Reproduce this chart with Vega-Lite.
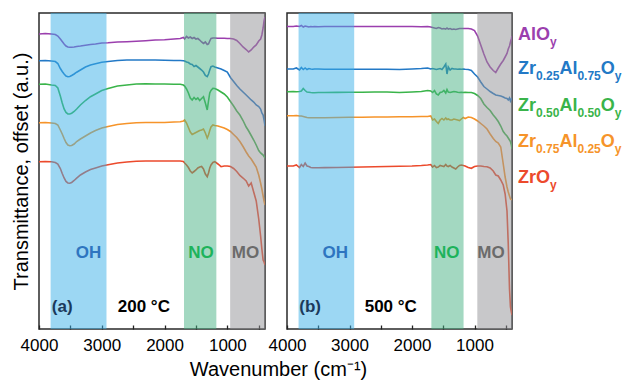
{
  "$schema": "https://vega.github.io/schema/vega-lite/v6.json",
  "padding": {"left": 10, "top": 12, "right": 0, "bottom": 5},
  "bounds": "flush",
  "spacing": 22,
  "config": {
    "view": {"stroke": "#2a2a2a", "strokeWidth": 1.5},
    "font": "Liberation Sans",
    "axis": {"grid": false, "domain": false, "labelFont": "Liberation Sans", "labelFontSize": 17, "labelColor": "#000000", "titleFont": "Liberation Sans", "titleFontSize": 20, "titleFontWeight": "normal", "titleColor": "#000000"},
    "axisX": {"values": [4000,3500,3000,2500,2000,1500,1000,500], "format": "d", "labelExpr": "datum.value % 1000 == 0 ? datum.label : ''", "tickSize": -4, "tickColor": "#222222", "tickWidth": 1.3, "labelPadding": 12, "labelFlush": false, "labelOverlap": false},
    "axisY": {"labels": false, "ticks": false}
  },
  "datasets": {
    "a": [
      {"w":4000,"AlOy":295,"Zr25":268.3,"Zr50":244.7,"Zr75":206.3,"ZrOy":167.3},
      {"w":3900,"AlOy":295.5,"Zr25":268.5,"Zr50":245,"Zr75":206.5,"ZrOy":167.5},
      {"w":3800,"AlOy":295,"Zr25":268,"Zr50":244,"Zr75":206,"ZrOy":167.3},
      {"w":3740,"AlOy":294.5,"Zr25":267.5,"Zr50":243.5,"Zr75":205.5,"ZrOy":166.5},
      {"w":3700,"AlOy":293,"Zr25":265.5,"Zr50":241,"Zr75":204,"ZrOy":165},
      {"w":3660,"AlOy":290,"Zr25":260.5,"Zr50":233,"Zr75":199,"ZrOy":160.5},
      {"w":3630,"AlOy":287.5,"Zr25":257.5,"Zr50":226,"Zr75":195,"ZrOy":155.5},
      {"w":3600,"AlOy":285,"Zr25":255,"Zr50":220,"Zr75":190.5,"ZrOy":151},
      {"w":3570,"AlOy":283,"Zr25":253,"Zr50":216.5,"Zr75":186.5,"ZrOy":147.5},
      {"w":3540,"AlOy":282,"Zr25":252.3,"Zr50":215,"Zr75":184,"ZrOy":146},
      {"w":3510,"AlOy":281.7,"Zr25":252.5,"Zr50":215,"Zr75":183.3,"ZrOy":145.8},
      {"w":3480,"AlOy":281.8,"Zr25":253.5,"Zr50":215.8,"Zr75":183.5,"ZrOy":146.5},
      {"w":3440,"AlOy":282,"Zr25":255,"Zr50":217.5,"Zr75":185,"ZrOy":148.5},
      {"w":3400,"AlOy":282.5,"Zr25":256.8,"Zr50":220,"Zr75":187.5,"ZrOy":150.8},
      {"w":3340,"AlOy":283,"Zr25":259,"Zr50":224,"Zr75":190,"ZrOy":154},
      {"w":3260,"AlOy":283.8,"Zr25":262,"Zr50":228.5,"Zr75":193,"ZrOy":157},
      {"w":3180,"AlOy":284.5,"Zr25":264,"Zr50":232.3,"Zr75":196,"ZrOy":159.5},
      {"w":3100,"AlOy":285,"Zr25":265.3,"Zr50":235,"Zr75":198.5,"ZrOy":161},
      {"w":3000,"AlOy":286,"Zr25":266.8,"Zr50":238.5,"Zr75":201,"ZrOy":163},
      {"w":2900,"AlOy":286.3,"Zr25":267.5,"Zr50":240.5,"Zr75":202.5,"ZrOy":164.2},
      {"w":2750,"AlOy":287,"Zr25":268.5,"Zr50":243,"Zr75":204.5,"ZrOy":166},
      {"w":2600,"AlOy":287.3,"Zr25":269,"Zr50":244,"Zr75":205.5,"ZrOy":167},
      {"w":2450,"AlOy":287.8,"Zr25":269,"Zr50":245,"Zr75":206.3,"ZrOy":167.7},
      {"w":2300,"AlOy":288.3,"Zr25":269,"Zr50":245.3,"Zr75":206.5,"ZrOy":168},
      {"w":2150,"AlOy":289,"Zr25":269,"Zr50":245,"Zr75":206.5,"ZrOy":168},
      {"w":2000,"AlOy":289.3,"Zr25":268.8,"Zr50":245,"Zr75":206.5,"ZrOy":168},
      {"w":1850,"AlOy":290,"Zr25":268.5,"Zr50":244.8,"Zr75":207,"ZrOy":168},
      {"w":1750,"AlOy":290.5,"Zr25":268.5,"Zr50":244.7,"Zr75":207.3,"ZrOy":168},
      {"w":1700,"AlOy":291.5,"Zr25":268.3,"Zr50":244,"Zr75":208,"ZrOy":167.5},
      {"w":1680,"AlOy":290,"Zr25":268,"Zr50":243,"Zr75":209,"ZrOy":166},
      {"w":1650,"AlOy":292.5,"Zr25":267,"Zr50":240,"Zr75":206,"ZrOy":164},
      {"w":1620,"AlOy":291,"Zr25":266.5,"Zr50":236,"Zr75":201.5,"ZrOy":161.5},
      {"w":1590,"AlOy":292,"Zr25":265,"Zr50":231,"Zr75":197,"ZrOy":158},
      {"w":1560,"AlOy":290.5,"Zr25":264.5,"Zr50":229,"Zr75":194.5,"ZrOy":156},
      {"w":1530,"AlOy":291.5,"Zr25":262.5,"Zr50":231.5,"Zr75":195.5,"ZrOy":157.5},
      {"w":1500,"AlOy":290,"Zr25":263.5,"Zr50":229.5,"Zr75":196.5,"ZrOy":159},
      {"w":1470,"AlOy":290.5,"Zr25":262,"Zr50":231,"Zr75":197.5,"ZrOy":161},
      {"w":1440,"AlOy":289,"Zr25":260.5,"Zr50":228.5,"Zr75":198.5,"ZrOy":162},
      {"w":1410,"AlOy":287,"Zr25":259,"Zr50":230.5,"Zr75":199,"ZrOy":162.5},
      {"w":1380,"AlOy":285.5,"Zr25":257,"Zr50":232.3,"Zr75":200,"ZrOy":160},
      {"w":1350,"AlOy":287,"Zr25":253.5,"Zr50":226,"Zr75":196,"ZrOy":155},
      {"w":1320,"AlOy":284.5,"Zr25":252.3,"Zr50":219,"Zr75":191,"ZrOy":152.3},
      {"w":1300,"AlOy":285,"Zr25":255,"Zr50":228,"Zr75":194,"ZrOy":156},
      {"w":1280,"AlOy":288,"Zr25":259,"Zr50":236,"Zr75":198.5,"ZrOy":161},
      {"w":1260,"AlOy":290.5,"Zr25":262.3,"Zr50":238.5,"Zr75":202,"ZrOy":164},
      {"w":1230,"AlOy":291,"Zr25":263,"Zr50":240.7,"Zr75":204,"ZrOy":166.5},
      {"w":1200,"AlOy":291,"Zr25":262,"Zr50":240.5,"Zr75":203.5,"ZrOy":167.3},
      {"w":1150,"AlOy":290.8,"Zr25":261,"Zr50":239,"Zr75":203,"ZrOy":165},
      {"w":1100,"AlOy":290.7,"Zr25":260,"Zr50":237,"Zr75":202,"ZrOy":162.3},
      {"w":1050,"AlOy":290.7,"Zr25":258.5,"Zr50":235,"Zr75":201,"ZrOy":163},
      {"w":1000,"AlOy":290.5,"Zr25":257,"Zr50":232,"Zr75":199.5,"ZrOy":163},
      {"w":950,"AlOy":290.5,"Zr25":251.5,"Zr50":227.5,"Zr75":197.5,"ZrOy":162.5},
      {"w":900,"AlOy":290,"Zr25":247.5,"Zr50":223,"Zr75":194.5,"ZrOy":160.5},
      {"w":850,"AlOy":288.5,"Zr25":243.5,"Zr50":218,"Zr75":191.5,"ZrOy":157.5},
      {"w":800,"AlOy":285.5,"Zr25":240,"Zr50":214,"Zr75":187.5,"ZrOy":153.5},
      {"w":750,"AlOy":282,"Zr25":237,"Zr50":208.5,"Zr75":182.5,"ZrOy":151},
      {"w":700,"AlOy":279.5,"Zr25":234,"Zr50":202,"Zr75":177,"ZrOy":148},
      {"w":660,"AlOy":277,"Zr25":231.5,"Zr50":198,"Zr75":173,"ZrOy":143},
      {"w":620,"AlOy":279,"Zr25":229,"Zr50":193.5,"Zr75":170,"ZrOy":146},
      {"w":580,"AlOy":282,"Zr25":227,"Zr50":189,"Zr75":166,"ZrOy":137},
      {"w":540,"AlOy":284,"Zr25":224,"Zr50":184,"Zr75":162,"ZrOy":128},
      {"w":500,"AlOy":288,"Zr25":222.5,"Zr50":178.5,"Zr75":154,"ZrOy":110},
      {"w":470,"AlOy":290,"Zr25":220,"Zr50":176,"Zr75":146,"ZrOy":93},
      {"w":450,"AlOy":294,"Zr25":216,"Zr50":175,"Zr75":140,"ZrOy":80},
      {"w":430,"AlOy":301,"Zr25":214,"Zr50":174,"Zr75":133,"ZrOy":69},
      {"w":415,"AlOy":308,"Zr25":209,"Zr50":172.5,"Zr75":128,"ZrOy":67},
      {"w":400,"AlOy":312,"Zr25":203,"Zr50":171,"Zr75":124,"ZrOy":64}
    ],
    "b": [
      {"w":4000,"AlOy":302.5,"Zr25":260,"Zr50":237.3,"Zr75":213.3,"ZrOy":163},
      {"w":3900,"AlOy":302.5,"Zr25":260,"Zr50":237.5,"Zr75":213.3,"ZrOy":163},
      {"w":3850,"AlOy":303,"Zr25":261,"Zr50":237.3,"Zr75":213.5,"ZrOy":164},
      {"w":3800,"AlOy":302.5,"Zr25":259,"Zr50":237.5,"Zr75":213,"ZrOy":161.5},
      {"w":3770,"AlOy":303.5,"Zr25":261.5,"Zr50":238,"Zr75":213,"ZrOy":164.5},
      {"w":3740,"AlOy":302,"Zr25":259.5,"Zr50":240.5,"Zr75":212.5,"ZrOy":162.5},
      {"w":3710,"AlOy":303,"Zr25":261,"Zr50":238.5,"Zr75":212,"ZrOy":166},
      {"w":3680,"AlOy":302.5,"Zr25":259.5,"Zr50":237,"Zr75":211.5,"ZrOy":163},
      {"w":3650,"AlOy":302,"Zr25":260.5,"Zr50":236.8,"Zr75":211.3,"ZrOy":162.5},
      {"w":3620,"AlOy":302.5,"Zr25":260,"Zr50":236.5,"Zr75":211.2,"ZrOy":161.5},
      {"w":3590,"AlOy":302.3,"Zr25":259.8,"Zr50":236.3,"Zr75":211.2,"ZrOy":161.3},
      {"w":3560,"AlOy":302.5,"Zr25":260,"Zr50":236.3,"Zr75":211.2,"ZrOy":161.3},
      {"w":3500,"AlOy":302.3,"Zr25":260,"Zr50":236.5,"Zr75":211.3,"ZrOy":161.3},
      {"w":3400,"AlOy":302.5,"Zr25":259.8,"Zr50":236.5,"Zr75":211.3,"ZrOy":161.4},
      {"w":3200,"AlOy":302.5,"Zr25":259.7,"Zr50":236.6,"Zr75":211.5,"ZrOy":161.5},
      {"w":3000,"AlOy":302.5,"Zr25":259.7,"Zr50":236.8,"Zr75":211.7,"ZrOy":161.8},
      {"w":2800,"AlOy":302.5,"Zr25":259.8,"Zr50":236.8,"Zr75":211.8,"ZrOy":162},
      {"w":2600,"AlOy":302.5,"Zr25":259.8,"Zr50":237,"Zr75":212,"ZrOy":162.3},
      {"w":2400,"AlOy":302.5,"Zr25":259.7,"Zr50":237,"Zr75":212,"ZrOy":162.5},
      {"w":2200,"AlOy":302.5,"Zr25":259.5,"Zr50":236.5,"Zr75":212.2,"ZrOy":162.8},
      {"w":2000,"AlOy":302.5,"Zr25":260,"Zr50":237,"Zr75":212.3,"ZrOy":163},
      {"w":1850,"AlOy":302.3,"Zr25":260.5,"Zr50":237.5,"Zr75":212.5,"ZrOy":163.5},
      {"w":1750,"AlOy":302.5,"Zr25":261,"Zr50":238.5,"Zr75":212.5,"ZrOy":164},
      {"w":1700,"AlOy":302,"Zr25":260,"Zr50":238,"Zr75":213,"ZrOy":164.5},
      {"w":1670,"AlOy":301.5,"Zr25":260.5,"Zr50":236.5,"Zr75":209,"ZrOy":162},
      {"w":1640,"AlOy":301,"Zr25":260,"Zr50":238.5,"Zr75":210,"ZrOy":163.5},
      {"w":1610,"AlOy":300.5,"Zr25":259.5,"Zr50":235,"Zr75":207.5,"ZrOy":161.5},
      {"w":1580,"AlOy":301.5,"Zr25":260,"Zr50":234,"Zr75":205.5,"ZrOy":162},
      {"w":1550,"AlOy":301,"Zr25":260.5,"Zr50":236.5,"Zr75":209,"ZrOy":163.5},
      {"w":1520,"AlOy":300,"Zr25":259.5,"Zr50":237,"Zr75":210.5,"ZrOy":163},
      {"w":1490,"AlOy":300.5,"Zr25":262,"Zr50":238.5,"Zr75":209,"ZrOy":162.5},
      {"w":1460,"AlOy":300,"Zr25":265,"Zr50":236,"Zr75":211,"ZrOy":164.5},
      {"w":1440,"AlOy":301,"Zr25":255,"Zr50":239.5,"Zr75":209.5,"ZrOy":163},
      {"w":1420,"AlOy":300,"Zr25":262,"Zr50":237,"Zr75":210,"ZrOy":162.5},
      {"w":1390,"AlOy":300.5,"Zr25":259,"Zr50":236.5,"Zr75":209,"ZrOy":163.5},
      {"w":1360,"AlOy":299.5,"Zr25":260.5,"Zr50":237,"Zr75":209,"ZrOy":162},
      {"w":1330,"AlOy":300,"Zr25":260,"Zr50":237.5,"Zr75":210,"ZrOy":161},
      {"w":1300,"AlOy":299.5,"Zr25":260,"Zr50":237.3,"Zr75":209.5,"ZrOy":160},
      {"w":1270,"AlOy":300,"Zr25":259.8,"Zr50":236.8,"Zr75":209,"ZrOy":162},
      {"w":1240,"AlOy":300.5,"Zr25":260,"Zr50":236.5,"Zr75":208.5,"ZrOy":163.5},
      {"w":1210,"AlOy":300.5,"Zr25":259.8,"Zr50":236.8,"Zr75":210,"ZrOy":164},
      {"w":1180,"AlOy":300.5,"Zr25":260,"Zr50":236.5,"Zr75":211.5,"ZrOy":163.5},
      {"w":1150,"AlOy":300.5,"Zr25":259.7,"Zr50":236.8,"Zr75":210.5,"ZrOy":163},
      {"w":1100,"AlOy":300.5,"Zr25":259.5,"Zr50":236.5,"Zr75":212,"ZrOy":161.5},
      {"w":1050,"AlOy":300,"Zr25":258.5,"Zr50":236.5,"Zr75":211.5,"ZrOy":160.7},
      {"w":1000,"AlOy":298.5,"Zr25":255,"Zr50":235.5,"Zr75":210,"ZrOy":162.5},
      {"w":950,"AlOy":293,"Zr25":252,"Zr50":233.5,"Zr75":208,"ZrOy":163},
      {"w":900,"AlOy":284,"Zr25":247,"Zr50":230.5,"Zr75":205.5,"ZrOy":163},
      {"w":850,"AlOy":275,"Zr25":242.5,"Zr50":225,"Zr75":203,"ZrOy":162.5},
      {"w":800,"AlOy":267,"Zr25":240,"Zr50":221.5,"Zr75":200,"ZrOy":162.3},
      {"w":750,"AlOy":262,"Zr25":237.5,"Zr50":218.5,"Zr75":195,"ZrOy":161},
      {"w":700,"AlOy":258.5,"Zr25":235.5,"Zr50":214,"Zr75":190.5,"ZrOy":158},
      {"w":660,"AlOy":256.5,"Zr25":234,"Zr50":211,"Zr75":187.5,"ZrOy":154},
      {"w":620,"AlOy":261,"Zr25":233.5,"Zr50":207.5,"Zr75":186,"ZrOy":153},
      {"w":580,"AlOy":265,"Zr25":233,"Zr50":203,"Zr75":182,"ZrOy":149},
      {"w":540,"AlOy":268.5,"Zr25":232,"Zr50":197.5,"Zr75":165,"ZrOy":144},
      {"w":510,"AlOy":272,"Zr25":231,"Zr50":195,"Zr75":152,"ZrOy":135},
      {"w":480,"AlOy":275.5,"Zr25":230.5,"Zr50":193,"Zr75":142,"ZrOy":118},
      {"w":460,"AlOy":280,"Zr25":229,"Zr50":191,"Zr75":137,"ZrOy":85},
      {"w":440,"AlOy":283,"Zr25":231,"Zr50":189,"Zr75":133,"ZrOy":40},
      {"w":425,"AlOy":287,"Zr25":228,"Zr50":187.5,"Zr75":130,"ZrOy":22},
      {"w":410,"AlOy":290,"Zr25":230,"Zr50":184,"Zr75":129.5,"ZrOy":17},
      {"w":400,"AlOy":293,"Zr25":229,"Zr50":180,"Zr75":129,"ZrOy":14}
    ],
    "bands": [
      {"band":"OH","start":3815,"end":2925},
      {"band":"NO","start":1690,"end":1175},
      {"band":"MO","start":955,"end":400}
    ],
    "notes": [
      {"panel":"a","label":"(a)","kind":"letter","w":3630,"v":22},
      {"panel":"a","label":"200 °C","kind":"temp","w":2330,"v":22},
      {"panel":"a","label":"OH","kind":"OH","w":3210,"v":76},
      {"panel":"a","label":"NO","kind":"NO","w":1420,"v":76},
      {"panel":"a","label":"MO","kind":"MO","w":710,"v":76},
      {"panel":"b","label":"(b)","kind":"letter","w":3630,"v":22},
      {"panel":"b","label":"500 °C","kind":"temp","w":2340,"v":22},
      {"panel":"b","label":"OH","kind":"OH","w":3228,"v":76},
      {"panel":"b","label":"NO","kind":"NO","w":1443,"v":76},
      {"panel":"b","label":"MO","kind":"MO","w":737,"v":76}
    ],
    "labels": [
      {"series":"AlOy","main":"AlO","v":289},
      {"series":"Zr25","a":"0.25","b":"0.75","v":255},
      {"series":"Zr50","a":"0.50","b":"0.50","v":218},
      {"series":"Zr75","a":"0.75","b":"0.25","v":182},
      {"series":"ZrOy","main":"ZrO","v":146}
    ]
  },
  "hconcat": [
    {
      "width": 226,
      "height": 316,
      "resolve": {"scale": {"color": "independent", "fill": "independent"}},
      "layer": [
        {
          "data": {"name": "a"},
          "transform": [{"fold": ["AlOy","Zr25","Zr50","Zr75","ZrOy"], "as": ["series","v"]}],
          "mark": {"type": "line", "strokeWidth": 1.6, "clip": true},
          "encoding": {
            "x": {"field": "w", "type": "quantitative", "scale": {"domain": [4000,400], "nice": false, "zero": false},
                  "axis": {"title": "Wavenumber (cm⁻¹)", "titleX": 239, "titleY": 30, "titleAlign": "center", "titleBaseline": "top"}},
            "y": {"field": "v", "type": "quantitative", "scale": {"domain": [0,316], "nice": false, "zero": false},
                  "axis": {"title": "Transmittance, offset (a.u.)", "titleX": -18, "titleY": 158, "titleAlign": "center", "titleBaseline": "middle", "titleAngle": 270}},
            "color": {"field": "series", "type": "nominal", "scale": {"domain": ["AlOy","Zr25","Zr50","Zr75","ZrOy"], "range": ["#9b3fae","#2379c6","#3ab44a","#f6942a","#ec4a2c"]}, "legend": null}
          }
        },
        {
          "data": {"name": "bands"},
          "mark": {"type": "rect", "opacity": 0.5},
          "encoding": {
            "x": {"field": "start", "type": "quantitative"},
            "x2": {"field": "end"},
            "fill": {"field": "band", "type": "nominal", "scale": {"domain": ["OH","NO","MO"], "range": ["#39afe7","#47b183","#919195"]}, "legend": null}
          }
        },
        {
          "data": {"name": "notes"},
          "transform": [{"filter": "datum.panel == 'a'"}],
          "mark": {"type": "text", "fontWeight": "bold", "fontSize": 17, "font": "Liberation Sans", "align": "center", "baseline": "middle"},
          "encoding": {
            "x": {"field": "w", "type": "quantitative"},
            "y": {"field": "v", "type": "quantitative"},
            "text": {"field": "label"},
            "color": {"field": "kind", "type": "nominal", "scale": {"domain": ["letter","temp","OH","NO","MO"], "range": ["#1b3a5c","#000000","#2e75c0","#1db35b","#6b6b6b"]}, "legend": null}
          }
        }
      ]
    },
    {
      "width": 225,
      "height": 316,
      "resolve": {"scale": {"color": "independent", "fill": "independent"}},
      "layer": [
        {
          "data": {"name": "b"},
          "transform": [{"fold": ["AlOy","Zr25","Zr50","Zr75","ZrOy"], "as": ["series","v"]}],
          "mark": {"type": "line", "strokeWidth": 1.6, "clip": true},
          "encoding": {
            "x": {"field": "w", "type": "quantitative", "scale": {"domain": [4000,400], "nice": false, "zero": false}, "axis": {"title": null}},
            "y": {"field": "v", "type": "quantitative", "scale": {"domain": [0,316], "nice": false, "zero": false}, "axis": null},
            "color": {"field": "series", "type": "nominal", "scale": {"domain": ["AlOy","Zr25","Zr50","Zr75","ZrOy"], "range": ["#9b3fae","#2379c6","#3ab44a","#f6942a","#ec4a2c"]}, "legend": null}
          }
        },
        {
          "data": {"name": "bands"},
          "mark": {"type": "rect", "opacity": 0.5},
          "encoding": {
            "x": {"field": "start", "type": "quantitative"},
            "x2": {"field": "end"},
            "fill": {"field": "band", "type": "nominal", "scale": {"domain": ["OH","NO","MO"], "range": ["#39afe7","#47b183","#919195"]}, "legend": null}
          }
        },
        {
          "data": {"name": "notes"},
          "transform": [{"filter": "datum.panel == 'b'"}],
          "mark": {"type": "text", "fontWeight": "bold", "fontSize": 17, "font": "Liberation Sans", "align": "center", "baseline": "middle"},
          "encoding": {
            "x": {"field": "w", "type": "quantitative"},
            "y": {"field": "v", "type": "quantitative", "axis": null},
            "text": {"field": "label"},
            "color": {"field": "kind", "type": "nominal", "scale": {"domain": ["letter","temp","OH","NO","MO"], "range": ["#1b3a5c","#000000","#2e75c0","#1db35b","#6b6b6b"]}, "legend": null}
          }
        },
        {
          "data": {"name": "labels"},
          "encoding": {
            "x": {"datum": 400, "type": "quantitative"},
            "y": {"field": "v", "type": "quantitative", "axis": null},
            "color": {"field": "series", "type": "nominal", "scale": {"domain": ["AlOy","Zr25","Zr50","Zr75","ZrOy"], "range": ["#9b3fae","#2379c6","#3ab44a","#f6942a","#ec4a2c"]}, "legend": null}
          },
          "layer": [
            {"transform": [{"filter": "isValid(datum.main)"}], "mark": {"type": "text", "align": "left", "baseline": "alphabetic", "font": "Liberation Sans", "fontWeight": "bold", "fontSize": 18, "dx": 6}, "encoding": {"text": {"field": "main"}}},
            {"transform": [{"filter": "isValid(datum.main)"}], "mark": {"type": "text", "align": "left", "baseline": "alphabetic", "font": "Liberation Sans", "fontWeight": "bold", "fontSize": 12, "dx": 38, "dy": 6}, "encoding": {"text": {"value": "y"}}},
            {"transform": [{"filter": "isValid(datum.a)"}], "mark": {"type": "text", "align": "left", "baseline": "alphabetic", "font": "Liberation Sans", "fontWeight": "bold", "fontSize": 18, "dx": 6}, "encoding": {"text": {"value": "Zr"}}},
            {"transform": [{"filter": "isValid(datum.a)"}], "mark": {"type": "text", "align": "left", "baseline": "alphabetic", "font": "Liberation Sans", "fontWeight": "bold", "fontSize": 12, "dx": 24, "dy": 6}, "encoding": {"text": {"field": "a"}}},
            {"transform": [{"filter": "isValid(datum.a)"}], "mark": {"type": "text", "align": "left", "baseline": "alphabetic", "font": "Liberation Sans", "fontWeight": "bold", "fontSize": 18, "dx": 47.4}, "encoding": {"text": {"value": "Al"}}},
            {"transform": [{"filter": "isValid(datum.a)"}], "mark": {"type": "text", "align": "left", "baseline": "alphabetic", "font": "Liberation Sans", "fontWeight": "bold", "fontSize": 12, "dx": 65.4, "dy": 6}, "encoding": {"text": {"field": "b"}}},
            {"transform": [{"filter": "isValid(datum.a)"}], "mark": {"type": "text", "align": "left", "baseline": "alphabetic", "font": "Liberation Sans", "fontWeight": "bold", "fontSize": 18, "dx": 88.7}, "encoding": {"text": {"value": "O"}}},
            {"transform": [{"filter": "isValid(datum.a)"}], "mark": {"type": "text", "align": "left", "baseline": "alphabetic", "font": "Liberation Sans", "fontWeight": "bold", "fontSize": 12, "dx": 102.7, "dy": 6}, "encoding": {"text": {"value": "y"}}}
          ]
        }
      ]
    }
  ]
}
